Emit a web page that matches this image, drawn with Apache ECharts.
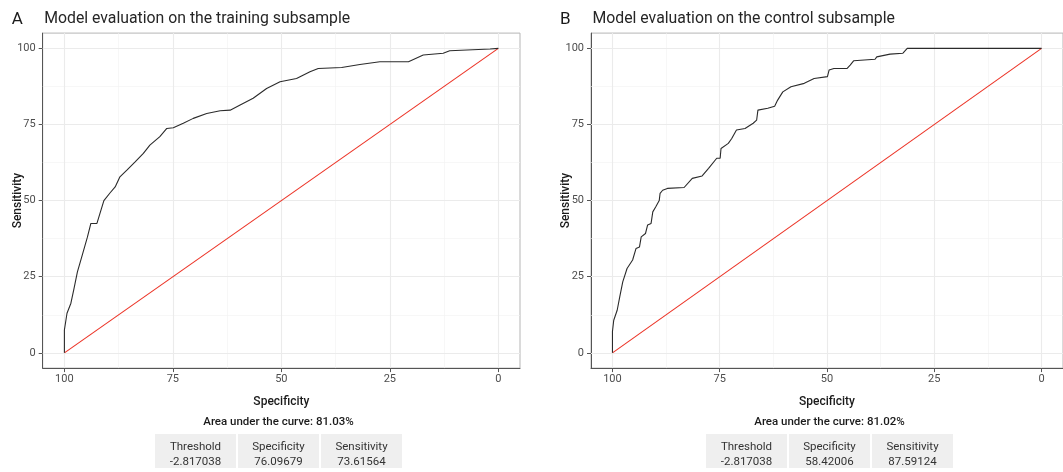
<!DOCTYPE html>
<html>
<head>
<meta charset="UTF-8">
<title>Model evaluation</title>
<script src="https://cdn.jsdelivr.net/npm/echarts@6/dist/echarts.min.js"></script>
<style>
html, body { margin: 0; padding: 0; background: #fff; }
#chart { width: 1063px; height: 472px; }
</style>
</head>
<body>
<div id="chart"></div>
<script>
// ROC curve, training subsample (specificity, sensitivity in %)
var specA = [100, 100, 99.4, 98.5, 97.8, 97.0, 96.0, 94.7, 93.9, 92.5, 91.8, 90.9, 89.5, 88.3, 87.2, 85.6, 83.7, 81.8, 80.3, 78.0,
  76.4, 74.9, 72.6, 70.3, 67.2, 64.1, 61.8, 59.5, 56.5, 53.4, 50.3, 46.5, 43.4, 41.5, 36.1, 31.9, 27.3, 20.7, 17.3, 12.7, 11.2, 1.9, 0];
var sensA = [0, 7.5, 13, 16.3, 21, 26.6, 31.5, 38, 42.5, 42.5, 45.8, 50, 52.5, 54.5, 57.8, 60, 62.7, 65.5, 68.2, 71,
  73.7, 73.9, 75.4, 77, 78.6, 79.5, 79.7, 81.4, 83.6, 86.8, 89, 90.1, 92.3, 93.4, 93.7, 94.7, 95.6, 95.6, 97.8, 98.4, 99.2, 99.8, 100];

// ROC curve, control subsample
var specB = [100, 100, 99.7, 98.9, 98.3, 97.6, 96.6, 95.3, 94.5, 93.7, 93.3, 92.3, 91.8, 91.0, 90.6, 89.9, 89.1, 88.9, 88.3, 87.2,
  83.3, 81.4, 79.1, 77.6, 75.7, 74.9, 74.7, 73.0, 72.2, 71.1, 69.1, 67.2, 66.4, 66.1, 63.8, 62.2, 61.5, 60.3, 58.4, 55.3,
  53.0, 49.9, 49.5, 48.4, 45.3, 44.6, 43.8, 38.8, 38.4, 35.3, 32.3, 31.3, 0];
var sensB = [0, 7, 10.7, 14, 18.4, 23.3, 27.7, 30.5, 34.3, 34.8, 38.1, 39.2, 42, 42.5, 46.3, 48, 50, 52.4, 53.4, 54,
  54.3, 57.3, 58.1, 60.6, 63.9, 63.9, 67.1, 68.8, 70.4, 73.2, 73.7, 75.4, 76.4, 79.7, 80.3, 81, 83, 85.7, 87.4, 88.5,
  90.1, 90.7, 92.9, 93.4, 93.4, 94.5, 95.9, 96.4, 97.2, 98.1, 98.4, 100, 100];

// chance diagonal
var diagSpec = [100, 0];
var diagSens = [0, 100];

var majorTicks = [0, 25, 50, 75, 100];
var minorTicks = [12.5, 37.5, 62.5, 87.5];

var titles = ['Model evaluation on the training subsample', 'Model evaluation on the control subsample'];
var tags = ['A', 'B'];
var aucText = ['Area under the curve: 81.03%', 'Area under the curve: 81.02%'];
var tableHead = ['Threshold', 'Specificity', 'Sensitivity'];
var tableA = ['-2.817038', '76.09679', '73.61564'];
var tableB = ['-2.817038', '58.42006', '87.59124'];

var FONT = 'Roboto, "Noto Sans", sans-serif';
var panels = [
  { left: 42.7, spec: specA, sens: sensA, table: tableA, cx: 278.5 },
  { left: 591, spec: specB, sens: sensB, table: tableB, cx: 829.5 }
];
var PW = 477.3, TOP = 33.1, PH = 335;

function pairs(xs, ys) {
  return xs.map(function (x, i) { return [x, ys[i]]; });
}

var grids = [], xAxes = [], yAxes = [], series = [], titleList = [], graphics = [];

panels.forEach(function (p, k) {
  grids.push({ left: p.left, top: TOP, width: PW, height: PH, show: true,
    borderColor: '#b5b5b5', borderWidth: 1, backgroundColor: 'transparent' });
  xAxes.push({
    gridIndex: k, type: 'value', min: -5, max: 105, inverse: true,
    name: 'Specificity', nameLocation: 'middle', nameGap: 28,
    nameTextStyle: { fontFamily: FONT, fontSize: 12, fontWeight: 500, color: '#1a1a1a' },
    axisLine: { show: true, onZero: false, lineStyle: { color: '#555', width: 1 } },
    axisTick: { show: true, length: 4, customValues: majorTicks, lineStyle: { color: '#555' } },
    axisLabel: { customValues: majorTicks, margin: 6, fontFamily: FONT, fontSize: 11, color: '#4d4d4d' },
    splitLine: { show: false }
  });
  yAxes.push({
    gridIndex: k, type: 'value', min: -5, max: 105,
    name: 'Sensitivity', nameLocation: 'middle', nameGap: 19, nameRotate: 90, nameMoveOverlap: false,
    nameTextStyle: { fontFamily: FONT, fontSize: 12, fontWeight: 500, color: '#1a1a1a' },
    axisLine: { show: true, onZero: false, lineStyle: { color: '#555', width: 1 } },
    axisTick: { show: true, length: 4, customValues: majorTicks, lineStyle: { color: '#555' } },
    axisLabel: { customValues: majorTicks, margin: 7, fontFamily: FONT, fontSize: 11, color: '#4d4d4d' },
    splitLine: { show: false }
  });

  var gl = [];
  minorTicks.forEach(function (v) {
    gl.push({ xAxis: v, lineStyle: { color: '#f2f2f2', width: 0.6, type: 'solid' } });
    gl.push({ yAxis: v, lineStyle: { color: '#f2f2f2', width: 0.6, type: 'solid' } });
  });
  majorTicks.forEach(function (v) {
    gl.push({ xAxis: v, lineStyle: { color: '#ebebeb', width: 1.1, type: 'solid' } });
    gl.push({ yAxis: v, lineStyle: { color: '#ebebeb', width: 1.1, type: 'solid' } });
  });
  // gridlines
  series.push({
    type: 'line', xAxisIndex: k, yAxisIndex: k, z: 1, silent: true,
    data: [[50, 50]], showSymbol: false, lineStyle: { width: 0 },
    markLine: { silent: true, z: 1, symbol: ['none', 'none'], label: { show: false },
      emphasis: { disabled: true }, animation: false, data: gl }
  });
  series.push({
    type: 'line', xAxisIndex: k, yAxisIndex: k, z: 3, silent: true,
    data: pairs(diagSpec, diagSens), showSymbol: false,
    lineStyle: { color: '#ec3326', width: 1.1 }
  });
  series.push({
    type: 'line', xAxisIndex: k, yAxisIndex: k, z: 4, silent: true,
    data: pairs(p.spec, p.sens), showSymbol: false,
    lineStyle: { color: '#2b2b2b', width: 1.1 }
  });

  titleList.push({ text: tags[k], left: p.left - 31, top: 11, padding: 0,
    textStyle: { fontFamily: FONT, fontSize: 17, fontWeight: 'normal', color: '#1a1a1a' } });
  titleList.push({ text: titles[k], left: p.left + 1.5, top: 11.5, padding: 0,
    textStyle: { fontFamily: FONT, fontSize: 15.8, fontWeight: 'normal', color: '#262626' } });

  var cx = p.cx;
  graphics.push({ type: 'text', z: 2,
    style: { text: aucText[k], x: cx, y: 422, align: 'center', verticalAlign: 'middle',
      font: '500 11.5px ' + FONT, fill: '#1a1a1a' } });
  var cw = 81, gap = 2, x0 = cx - (3 * cw + 2 * gap) / 2;
  for (var c = 0; c < 3; c++) {
    var xl = x0 + c * (cw + gap);
    graphics.push({ type: 'rect', shape: { x: xl, y: 434, width: cw, height: 34 },
      style: { fill: '#efefef' }, z: 1 });
    graphics.push({ type: 'text', z: 2,
      style: { text: tableHead[c], x: xl + cw / 2, y: 447, align: 'center', verticalAlign: 'middle',
        font: '11.5px ' + FONT, fill: '#333' } });
    graphics.push({ type: 'text', z: 2,
      style: { text: p.table[c], x: xl + cw / 2, y: 462, align: 'center', verticalAlign: 'middle',
        font: '11.5px ' + FONT, fill: '#333' } });
  }
});

var myChart = echarts.init(document.getElementById('chart'), null, { renderer: 'canvas' });
myChart.setOption({
  animation: false,
  backgroundColor: '#fff',
  title: titleList,
  grid: grids,
  xAxis: xAxes,
  yAxis: yAxes,
  series: series,
  graphic: graphics
});
</script>
</body>
</html>
